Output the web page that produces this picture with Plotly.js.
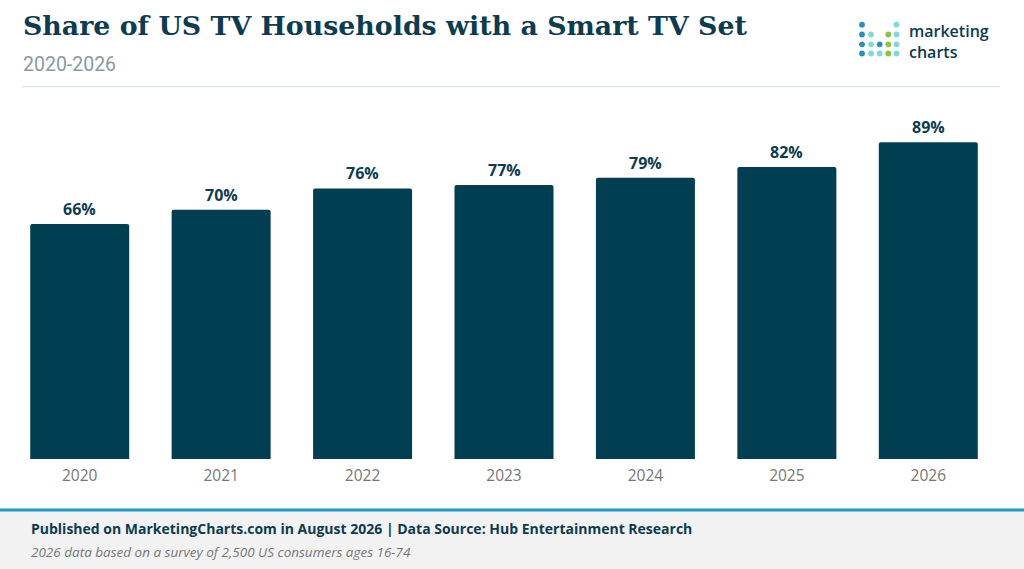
<!DOCTYPE html>
<html>
<head>
<meta charset="utf-8">
<script src="https://cdn.plot.ly/plotly-3.0.1.min.js"></script>
<style>
  html, body { margin:0; padding:0; background:#fff; }
  #chart { width:1024px; height:569px; }
</style>
</head>
<body>
<div id="chart"></div>
<script>
// Share of US TV households with a smart TV set, 2020-2026
const years  = ['2020', '2021', '2022', '2023', '2024', '2025', '2026'];
const shares = [66, 70, 76, 77, 79, 82, 89];

const W = 1024, H = 569;
const M = { l: 9, r: 25, t: 103, b: 110 };
const plotW = W - M.l - M.r, plotH = H - M.t - M.b;

// pixel -> paper helpers (for header / footer decoration only)
const px = x => (x - M.l) / plotW;
const py = y => (H - M.b - y) / plotH;

const DARK = '#0b3c4f';
const BAR  = '#003f52';

const trace = {
  type: 'bar',
  x: years,
  y: shares,
  marker: { color: BAR, cornerradius: 2 },
  hoverinfo: 'skip',
};

// value labels above bars (category index positions)
const valueLabels = years.map((yr, i) => ({
  x: i, y: shares[i], xref: 'x', yref: 'y',
  text: shares[i] + '%', showarrow: false,
  yanchor: 'bottom', yshift: 2,
  font: { family: 'Open Sans, sans-serif', size: 16, color: DARK, weight: 700 },
}));

// ── Logo dots ─────────────────────────────────────────────────────────────────
const BLUE = '#2a8fc4', TEAL = '#7ddada', GREEN = '#8cc63f';
const logoCols = [862, 871, 879.7, 888.3, 896.5];
const logoRows = [24.7, 34.5, 44.3, 53.5];
const logoGrid = [
  [BLUE, null, null, null,  TEAL],
  [BLUE, TEAL, null, GREEN, TEAL],
  [BLUE, TEAL, BLUE, GREEN, TEAL],
  [BLUE, TEAL, TEAL, GREEN, TEAL],
];
const dotR = 2.9;
const logoShapes = [];
logoGrid.forEach((row, ri) => row.forEach((c, ci) => {
  if (!c) return;
  const cx = logoCols[ci], cy = logoRows[ri];
  logoShapes.push({
    type: 'circle', xref: 'paper', yref: 'paper',
    x0: px(cx - dotR), x1: px(cx + dotR), y0: py(cy + dotR), y1: py(cy - dotR),
    fillcolor: c, line: { width: 0 },
  });
}));

const shapes = [
  // divider under header
  { type: 'line', xref: 'paper', yref: 'paper', x0: px(22), x1: px(1000), y0: py(86.7), y1: py(86.7),
    line: { color: '#c9dde7', width: 1 } },
  // footer background
  { type: 'rect', xref: 'paper', yref: 'paper', x0: px(0), x1: px(W), y0: py(H), y1: py(510),
    fillcolor: '#f2f2f2', line: { width: 0 }, layer: 'below' },
  // footer top rule
  { type: 'line', xref: 'paper', yref: 'paper', x0: px(0), x1: px(W), y0: py(510), y1: py(510),
    line: { color: '#1c9ac9', width: 3 } },
  ...logoShapes,
];

const annotations = [
  { text: 'Share of US TV Households with a Smart TV Set',
    xref: 'paper', yref: 'paper', x: px(21), y: py(25), xanchor: 'left', yanchor: 'middle',
    showarrow: false, font: { family: 'DejaVu Serif, serif', size: 26.8, color: DARK, weight: 700 } },
  { text: '2020-2026',
    xref: 'paper', yref: 'paper', x: px(21), y: py(64), xanchor: 'left', yanchor: 'middle',
    showarrow: false, font: { family: 'Roboto, sans-serif', size: 19.5, color: '#8c99a3' } },
  { text: 'marketing<br>charts',
    xref: 'paper', yref: 'paper', x: px(907), y: py(42), xanchor: 'left', yanchor: 'middle',
    align: 'left', showarrow: false,
    font: { family: 'Open Sans, sans-serif', size: 16, color: DARK, weight: 600 } },
  { text: 'Published on MarketingCharts.com in August 2026 | Data Source: Hub Entertainment Research',
    xref: 'paper', yref: 'paper', x: px(29), y: py(528), xanchor: 'left', yanchor: 'middle',
    showarrow: false, font: { family: 'Open Sans, sans-serif', size: 14, color: DARK, weight: 700 } },
  { text: '<i>2026 data based on a survey of 2,500 US consumers ages 16-74</i>',
    xref: 'paper', yref: 'paper', x: px(29), y: py(552), xanchor: 'left', yanchor: 'middle',
    showarrow: false, font: { family: 'Open Sans, sans-serif', size: 13.5, color: '#777' } },
  ...valueLabels,
];

const layout = {
  width: W, height: H,
  margin: M,
  paper_bgcolor: '#fff', plot_bgcolor: '#fff',
  bargap: 0.3,
  showlegend: false,
  xaxis: {
    type: 'category', range: [-0.5, years.length - 0.5],
    showgrid: false, zeroline: false, showline: false,
    ticks: '', ticklabelstandoff: 5,
    tickfont: { family: 'Open Sans, sans-serif', size: 15.5, color: '#777' },
  },
  yaxis: { range: [0, 100], visible: false, showgrid: false, zeroline: false },
  shapes, annotations,
};

Plotly.newPlot('chart', [trace], layout, { displayModeBar: false, staticPlot: true });
</script>
</body>
</html>
